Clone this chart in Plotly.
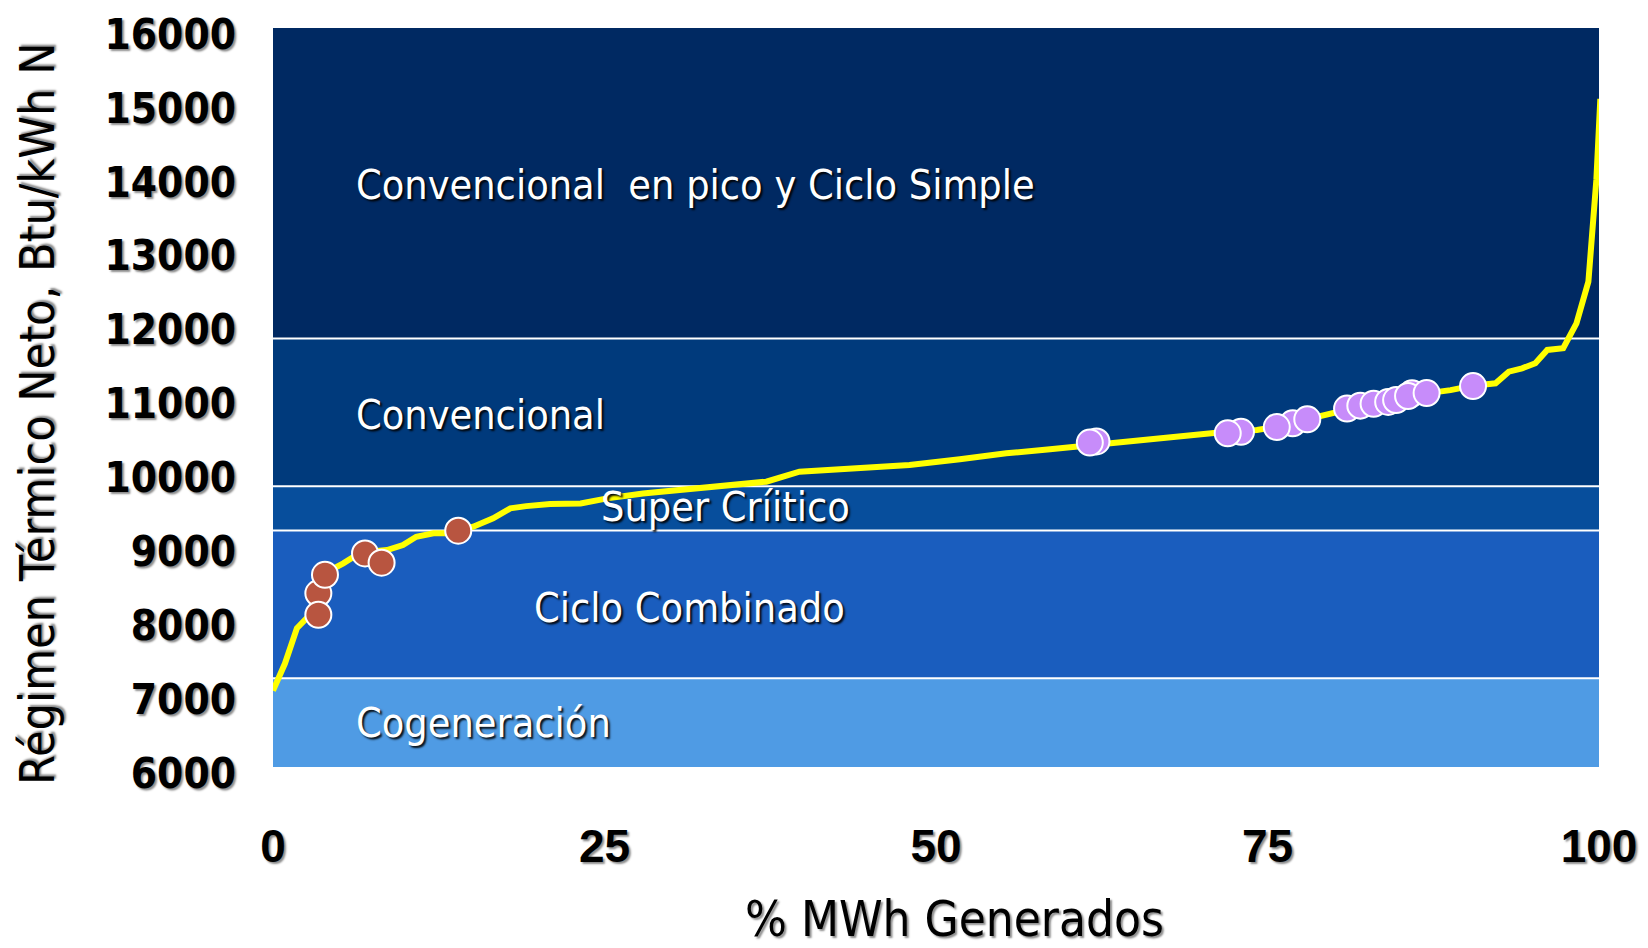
import plotly.graph_objects as go

# ---- data ----
band_names = ["Cogeneración", "Ciclo Combinado", "Super Críitico", "Convencional",
              "Convencional\u00a0 en pico y Ciclo Simple"]
band_lower = [6000, 7200, 9200, 9800, 11800]
band_upper = [7200, 9200, 9800, 11800, 16000]
band_colors = ["#4F9BE4", "#1A5DBE", "#074E9C", "#003A7C", "#002962"]
label_x = [6.1, 19.5, 24.6, 6.1, 6.1]
label_y = [6600, 8150, 9520, 10770, 13880]

curve_x = [0, 0.9, 1.8, 2.4, 3.0, 3.6, 4.2, 5.3, 6.3, 7.3, 8.6, 9.8, 10.8, 12.1, 13.1,
           14.0, 15.1, 16.6, 17.9, 19.1, 20.9, 23.2, 25.2, 27.9, 31.7, 34.2, 37.2, 39.7,
           41.8, 45.3, 48.0, 51.8, 55.3, 58.6, 60.6, 63.6, 67.4, 70.4, 71.9, 74.2, 75.7,
           77.7, 80.2, 82.5, 85.0, 87.0, 88.8, 90.5, 92.2, 93.2, 94.2, 95.2, 96.1, 97.3,
           98.3, 99.2, 99.8, 100.1]
curve_y = [7033, 7400, 7877, 7990, 8100, 8400, 8650, 8756, 8869, 8914, 8936, 9004, 9116,
           9162, 9162, 9198, 9252, 9365, 9500, 9530, 9559, 9565, 9635, 9702, 9770, 9816,
           9861, 9996, 10019, 10073, 10087, 10164, 10245, 10299, 10335, 10402, 10461,
           10506, 10537, 10560, 10605, 10695, 10808, 10899, 10966, 11056, 11100, 11160,
           11192, 11350, 11395, 11463, 11643, 11666, 12004, 12567, 13943, 15040]

red_x = [3.42, 3.42, 3.92, 6.94, 8.19, 13.97]
red_y = [8350, 8060, 8600, 8890, 8765, 9198]

purple_x = [62.1, 61.6, 73.0, 72.0, 76.9, 75.7, 78.0, 81.0, 82.0, 83.0, 85.9, 84.1, 84.7,
            85.6, 87.0, 90.5]
purple_y = [10405, 10390, 10535, 10515, 10650, 10600, 10705, 10850, 10890, 10915, 11057,
            10940, 10965, 11020, 11060, 11155]

x_ticks = [0, 25, 50, 75, 100]
y_ticks = [6000, 7000, 8000, 9000, 10000, 11000, 12000, 13000, 14000, 15000, 16000]

x_title = "% MWh Generados"
y_title = "Régimen Térmico Neto, Btu/kWh N"

fig = go.Figure()

shapes = []
for lo, hi, col in zip(band_lower, band_upper, band_colors):
    shapes.append(dict(type="rect", xref="x", yref="y", x0=0, x1=100, y0=lo, y1=hi,
                       fillcolor=col, line=dict(width=0), layer="below"))
for b in band_lower[1:]:
    shapes.append(dict(type="line", xref="x", yref="y", x0=0, x1=100, y0=b, y1=b,
                       line=dict(color="white", width=2), layer="below"))

fig.add_trace(go.Scatter(x=curve_x, y=curve_y, mode="lines",
                         line=dict(color="#FFFF00", width=6), hoverinfo="skip",
                         cliponaxis=False, showlegend=False))
fig.add_trace(go.Scatter(x=red_x, y=red_y, mode="markers",
                         marker=dict(size=26, color="#B85540",
                                     line=dict(color="white", width=2)),
                         showlegend=False))
fig.add_trace(go.Scatter(x=purple_x, y=purple_y, mode="markers",
                         marker=dict(size=26, color="#C78CFA",
                                     line=dict(color="white", width=2)),
                         showlegend=False))

annotations = []
for name, lx, ly in zip(band_names, label_x, label_y):
    annotations.append(dict(x=lx, y=ly, xref="x", yref="y", text=name, showarrow=False,
                            xanchor="left", yanchor="middle",
                            font=dict(family="DejaVu Sans Condensed", size=41,
                                      color="white",
                                      shadow="2px 2px 2px rgba(0,0,0,0.9)")))

# axis titles placed as paper-anchored text
annotations.append(dict(x=0.5136, y=-0.207, xref="paper", yref="paper", text=x_title,
                        showarrow=False, xanchor="center", yanchor="middle",
                        font=dict(family="DejaVu Sans Condensed", size=49, color="black",
                                  shadow="2px 2px 2px rgba(0,0,0,0.45)")))
annotations.append(dict(x=-0.178, y=0.4777, xref="paper", yref="paper", text=y_title,
                        showarrow=False, xanchor="center", yanchor="middle",
                        textangle=-90,
                        font=dict(family="DejaVu Sans Condensed", size=48, color="black",
                                  shadow="2px 2px 2px rgba(0,0,0,0.45)")))

# page body has an 8px default margin, so the figure is slightly smaller
fig.update_layout(
    width=1640, height=940,
    margin=dict(l=265, r=49, t=20, b=181, autoexpand=False),
    paper_bgcolor="white", plot_bgcolor="white",
    shapes=shapes, annotations=annotations,
    showlegend=False,
    xaxis=dict(range=[0, 100], tickvals=x_ticks, ticktext=[str(v) for v in x_ticks],
               showgrid=False, zeroline=False, showline=False, ticks="",
               automargin=False, ticklabelstandoff=48, ticklabeloverflow="allow",
               tickfont=dict(family="Liberation Sans", size=46, color="black",
                             weight="bold", shadow="2px 2px 2px rgba(0,0,0,0.45)")),
    yaxis=dict(range=[6000, 16000], tickvals=y_ticks,
               ticktext=[str(v) for v in y_ticks],
               showgrid=False, zeroline=False, showline=False, ticks="",
               automargin=False, ticklabelstandoff=36, ticklabeloverflow="allow",
               ticklabelshift=6,
               tickfont=dict(family="DejaVu Sans Condensed", size=42, color="black",
                             weight="bold", shadow="2px 2px 2px rgba(0,0,0,0.45)")),
)

fig.write_html("out.html")
